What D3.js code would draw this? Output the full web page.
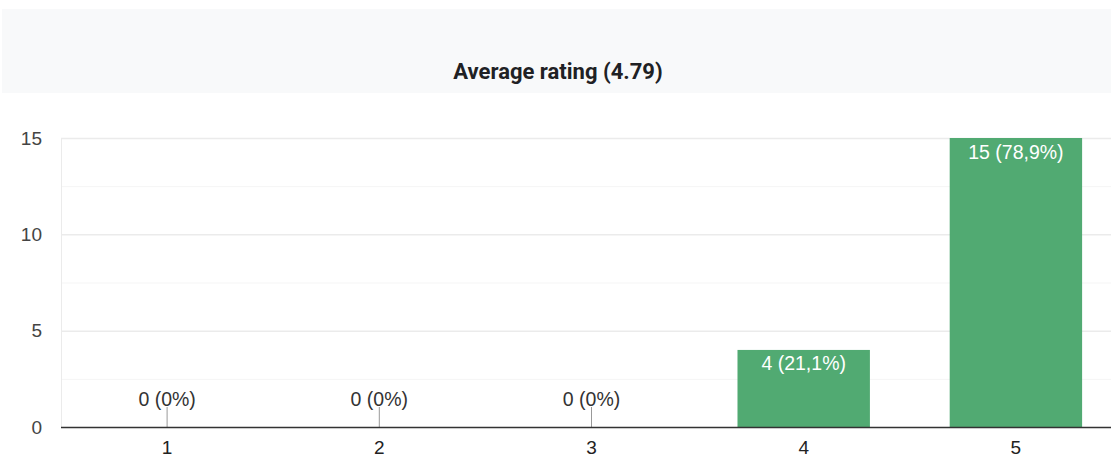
<!DOCTYPE html>
<html>
<head>
<meta charset="utf-8">
<script src="https://cdn.jsdelivr.net/npm/d3@7"></script>
<style>
  html, body { margin: 0; padding: 0; background: #ffffff; }
  svg { display: block; }
</style>
</head>
<body>
<svg id="chart" width="1111" height="458"></svg>
<script>
// Rating distribution
const ratings = ["1", "2", "3", "4", "5"];
const counts = [0, 0, 0, 4, 15];
const percentLabels = ["0%", "0%", "0%", "21,1%", "78,9%"];
const yTicks = [0, 5, 10, 15];
const yMinorTicks = [2.5, 7.5, 12.5];
const titleText = "Average rating (4.79)";

const svg = d3.select("#chart");
const W = 1111, H = 458;
const plot = { left: 61, right: 1122, top: 138, bottom: 427 };

// Title panel
svg.append("rect")
  .attr("x", 2).attr("y", 9).attr("width", W - 2).attr("height", 84)
  .attr("fill", "#f8f9fa");
svg.append("text")
  .attr("x", 558).attr("y", 78.5)
  .attr("text-anchor", "middle")
  .attr("font-family", "Roboto, 'Liberation Sans', sans-serif")
  .attr("font-weight", "bold")
  .attr("font-size", 22)
  .attr("fill", "#202124")
  .text(titleText);

const x = d3.scaleBand()
  .domain(ratings)
  .range([plot.left, plot.right])
  .paddingInner(0.376)
  .paddingOuter(0.188);

const y = d3.scaleLinear()
  .domain([0, 15])
  .range([plot.bottom, plot.top]);

const font = "Arial, 'Liberation Sans', sans-serif";

// Minor gridlines
svg.append("g").selectAll("line").data(yMinorTicks).join("line")
  .attr("x1", plot.left).attr("x2", W)
  .attr("y1", d => y(d) + 0.5).attr("y2", d => y(d) + 0.5)
  .attr("stroke", "#f5f5f5").attr("stroke-width", 1);

// Major gridlines
svg.append("g").selectAll("line").data(yTicks.filter(d => d > 0)).join("line")
  .attr("x1", plot.left).attr("x2", W)
  .attr("y1", d => y(d) + 0.5).attr("y2", d => y(d) + 0.5)
  .attr("stroke", "#ebebeb").attr("stroke-width", 1.5);

// Left edge of the plot
svg.append("line")
  .attr("x1", plot.left + 0.5).attr("x2", plot.left + 0.5)
  .attr("y1", plot.top).attr("y2", plot.bottom)
  .attr("stroke", "#ebebeb");

// Y axis labels
const yAxis = d3.axisLeft(y).tickValues(yTicks).tickSize(0).tickPadding(19);
svg.append("g")
  .attr("transform", `translate(${plot.left},0)`)
  .call(yAxis)
  .call(g => g.select(".domain").remove())
  .call(g => g.selectAll("text")
    .attr("font-family", font).attr("font-size", 19).attr("fill", "#444"));

// Bars
svg.append("g").selectAll("rect").data(ratings.filter((r, i) => counts[i] > 0)).join("rect")
  .attr("x", r => x(r))
  .attr("width", x.bandwidth())
  .attr("y", r => y(counts[ratings.indexOf(r)]))
  .attr("height", r => y(0) - y(counts[ratings.indexOf(r)]))
  .attr("fill", "#51aa72");

// Value labels
ratings.forEach((r, i) => {
  const cx = x(r) + x.bandwidth() / 2;
  const label = `${counts[i]} (${percentLabels[i]})`;
  if (counts[i] > 0) {
    svg.append("text")
      .attr("x", cx).attr("y", y(counts[i]) + 20.5)
      .attr("text-anchor", "middle")
      .attr("font-family", font).attr("font-size", 19.5)
      .attr("fill", "#ffffff")
      .text(label);
  } else {
    svg.append("line")
      .attr("x1", cx).attr("x2", cx)
      .attr("y1", y(0) - 20).attr("y2", y(0))
      .attr("stroke", "#999").attr("stroke-width", 1);
    svg.append("text")
      .attr("x", cx).attr("y", y(0) - 21.5)
      .attr("text-anchor", "middle")
      .attr("font-family", font).attr("font-size", 19.5)
      .attr("fill", "#333")
      .text(label);
  }
});

// X axis baseline and labels
svg.append("line")
  .attr("x1", plot.left).attr("x2", W)
  .attr("y1", plot.bottom + 0.5).attr("y2", plot.bottom + 0.5)
  .attr("stroke", "#333").attr("stroke-width", 1.5);

const xAxis = d3.axisBottom(x).tickSize(0).tickPadding(14);
svg.append("g")
  .attr("transform", `translate(0,${plot.bottom})`)
  .call(xAxis)
  .call(g => g.select(".domain").remove())
  .call(g => g.selectAll("text")
    .attr("font-family", font).attr("font-size", 19).attr("fill", "#222"));
</script>
</body>
</html>
